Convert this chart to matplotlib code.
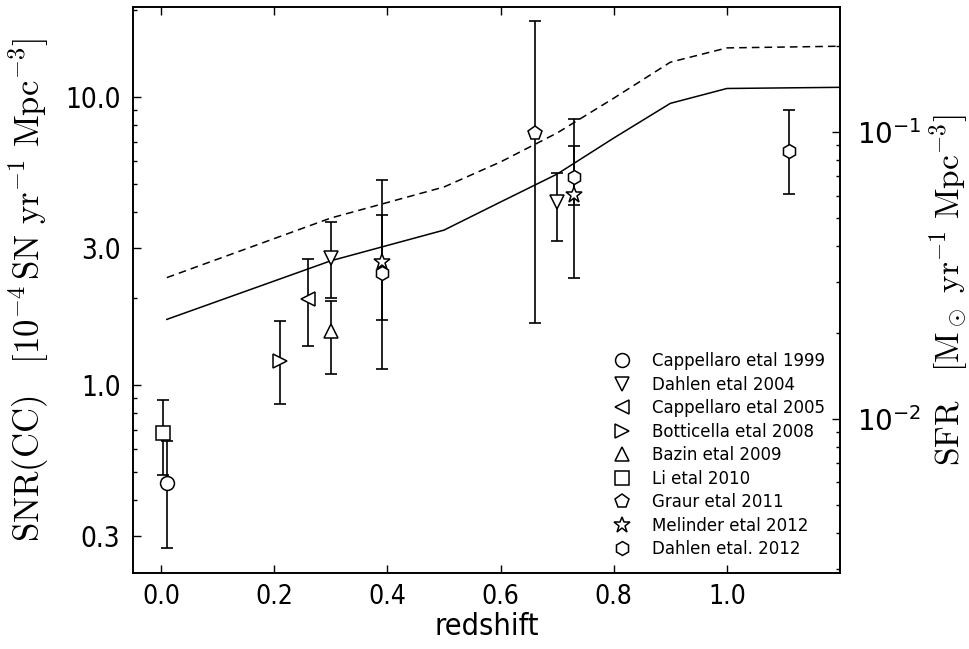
import numpy as np
import matplotlib
matplotlib.use("Agg")
import matplotlib.pyplot as plt
from matplotlib.ticker import NullFormatter, FixedLocator, LogLocator

plt.rcParams['mathtext.fontset'] = 'cm'

# model curves (SNR from SFR)
z_model = [0.01, 0.3, 0.5, 0.6, 0.7, 0.8, 0.9, 1.0, 1.2]
snr_solid = [1.69, 2.7, 3.45, 4.32, 5.4, 7.2, 9.5, 10.7, 10.8]
snr_dash = [2.36, 3.8, 4.87, 5.95, 7.5, 9.9, 13.2, 14.8, 15.0]

# measurements: redshift, rate, lower bound, upper bound
cap99_z, cap99_r, cap99_lo, cap99_hi = [0.01], [0.457], [0.272], [0.64]
dah04_z, dah04_r, dah04_lo, dah04_hi = [0.30, 0.70], [2.75, 4.33], [2.01, 3.17], [3.68, 5.43]
cap05_z, cap05_r, cap05_lo, cap05_hi = [0.26], [1.99], [1.37], [2.74]
bot08_z, bot08_r, bot08_lo, bot08_hi = [0.21], [1.21], [0.861], [1.67]
baz09_z, baz09_r, baz09_lo, baz09_hi = [0.30], [1.54], [1.09], [1.95]
li10_z, li10_r, li10_lo, li10_hi = [0.004], [0.682], [0.487], [0.887]
gra11_z, gra11_r, gra11_lo, gra11_hi = [0.66], [7.52], [1.64], [18.3]
mel12_z, mel12_r, mel12_lo, mel12_hi = [0.39, 0.73], [2.68, 4.57], [1.68, 4.22], [3.89, 6.76]
dah12_z, dah12_r, dah12_lo, dah12_hi = [0.39, 0.73, 1.11], [2.44, 5.29, 6.49], [1.14, 2.36, 4.59], [5.15, 8.39, 9.01]

datasets = [
    ('Cappellaro etal 1999', 'o', cap99_z, cap99_r, cap99_lo, cap99_hi),
    ('Dahlen etal 2004', 'v', dah04_z, dah04_r, dah04_lo, dah04_hi),
    ('Cappellaro etal 2005', '<', cap05_z, cap05_r, cap05_lo, cap05_hi),
    ('Botticella etal 2008', '>', bot08_z, bot08_r, bot08_lo, bot08_hi),
    ('Bazin etal 2009', '^', baz09_z, baz09_r, baz09_lo, baz09_hi),
    ('Li etal 2010', 's', li10_z, li10_r, li10_lo, li10_hi),
    ('Graur etal 2011', 'p', gra11_z, gra11_r, gra11_lo, gra11_hi),
    ('Melinder etal 2012', '*', mel12_z, mel12_r, mel12_lo, mel12_hi),
    ('Dahlen etal. 2012', 'h', dah12_z, dah12_r, dah12_lo, dah12_hi),
]

x_ticks = [0.0, 0.2, 0.4, 0.6, 0.8, 1.0]
y_ticks = [0.3, 1.0, 3.0, 10.0]
sfr_ticks = [0.01, 0.1]

fig = plt.figure(figsize=(9.7, 6.49), dpi=100)
ax = fig.add_axes([0.137, 0.117, 0.729, 0.872])

ax.plot(z_model, snr_solid, color='black', lw=1.1, zorder=2)
ax.plot(z_model, snr_dash, color='black', lw=1.1, dashes=(5, 3.3), zorder=2)

for lab, mk, z, r, lo, hi in datasets:
    r = np.array(r)
    err = [r - np.array(lo), np.array(hi) - r]
    ax.errorbar(z, r, yerr=err, fmt='none', ecolor='black', elinewidth=1.2,
                capsize=4, capthick=1.2, zorder=3)
    ms = 12 if mk == '*' else 10
    ax.plot(z, r, ls='none', marker=mk, ms=ms, mfc='white', mec='black',
            mew=1.1, label=lab, zorder=4)

ax.set_yscale('log')
ax.set_xlim(-0.05, 1.2)
ax.set_ylim(0.2225, 20.5)
ax.xaxis.set_major_locator(FixedLocator(x_ticks))
ax.set_xticklabels(['%.1f' % v for v in x_ticks])
ax.yaxis.set_major_locator(FixedLocator(y_ticks))
ax.set_yticklabels(['%.1f' % v for v in y_ticks])
ax.yaxis.set_minor_locator(LogLocator(subs=np.arange(2, 10)))
ax.yaxis.set_minor_formatter(NullFormatter())
ax.tick_params(which='both', direction='in', top=True, right=False)
ax.tick_params(which='major', length=6, width=1, labelsize=20)
ax.tick_params(axis='x', which='major', pad=8, labelsize=19)
ax.tick_params(axis='y', which='major', pad=9)
ax.tick_params(which='minor', length=3, width=1)
for lbl in ax.get_xticklabels() + ax.get_yticklabels():
    lbl.set_fontstretch('condensed')

ax.set_xlabel('redshift', fontsize=22, fontstretch='condensed')
ax.xaxis.set_label_coords(0.5, -0.068)
ax.set_ylabel(r'$\mathrm{SNR(CC)}\ \ \ [10^{-4}\,\mathrm{SN\ yr^{-1}\ Mpc^{-3}}]$',
              fontsize=25, labelpad=10)

ax2 = ax.twinx()
ax2.set_yscale('log')
ax2.set_ylim(0.0029, 0.2725)
ax2.yaxis.set_major_locator(FixedLocator(sfr_ticks))
ax2.set_yticklabels([r'$10^{-2}$', r'$10^{-1}$'])
ax2.yaxis.set_minor_locator(LogLocator(subs=np.arange(2, 10)))
ax2.yaxis.set_minor_formatter(NullFormatter())
ax2.tick_params(which='both', direction='in')
ax2.tick_params(which='major', length=6, width=1, labelsize=20, pad=12)
ax2.tick_params(which='minor', length=3, width=1)
for lbl in ax2.get_yticklabels():
    lbl.set_math_fontfamily('dejavusans')
ax2.set_ylabel(r'$\mathrm{SFR}\ \ \ [\mathrm{M_\odot\ yr^{-1}\ Mpc^{-3}}]$',
               fontsize=24, labelpad=4)

for a in (ax, ax2):
    for s in a.spines.values():
        s.set_linewidth(1.2)

ax.legend(loc='lower right', frameon=False, fontsize=12, numpoints=1,
          labelspacing=0.33)

fig.savefig('out.png', dpi=100)
